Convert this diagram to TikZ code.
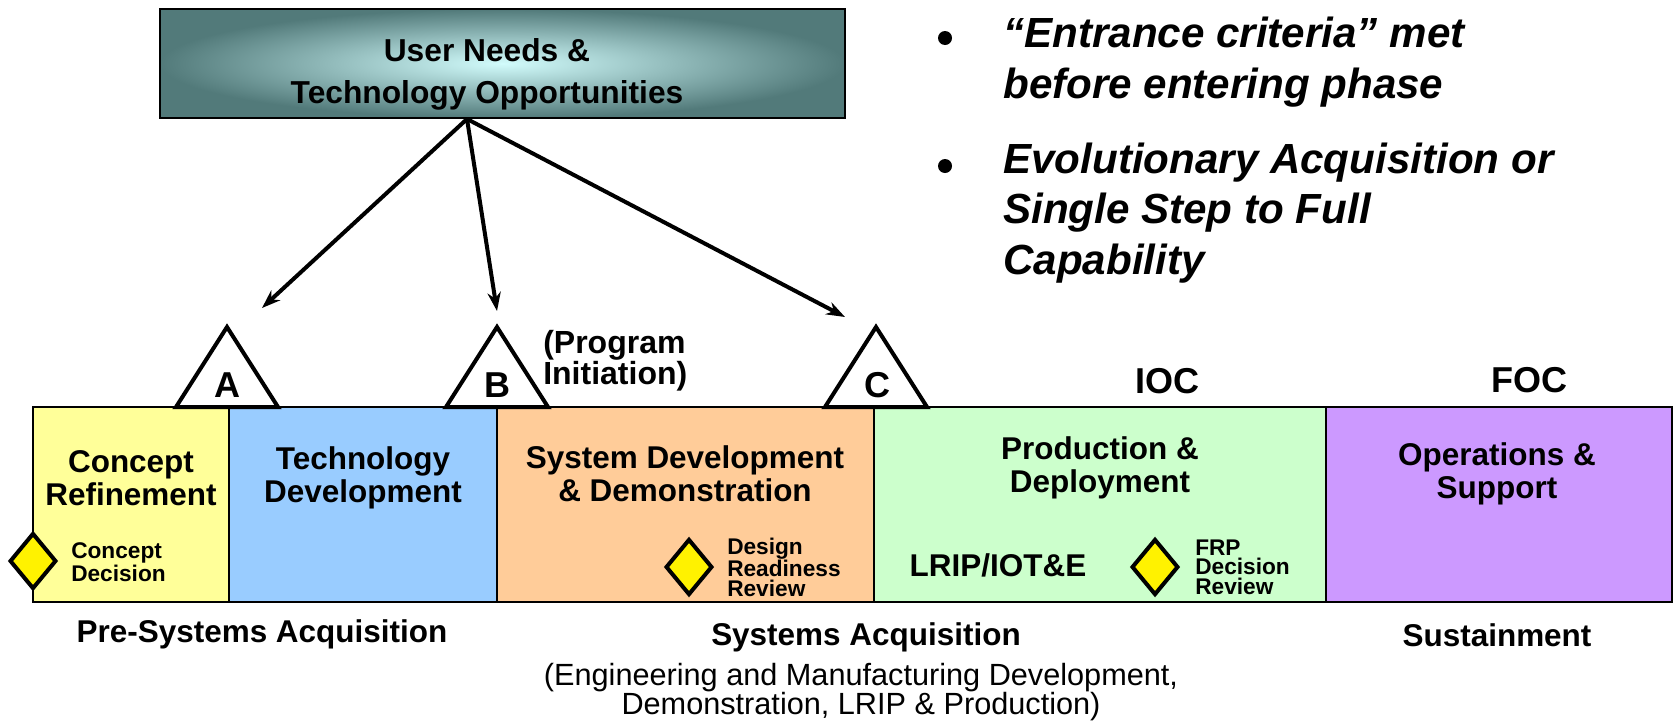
\documentclass[tikz,border=0pt]{standalone}
\usepackage{fontspec}
\setmainfont{Liberation Sans}
\usetikzlibrary{arrows.meta,shapes.geometric}

\definecolor{crYellow}{RGB}{255,255,153}
\definecolor{tdBlue}{RGB}{153,204,255}
\definecolor{sddOrange}{RGB}{255,204,153}
\definecolor{pdGreen}{RGB}{204,255,204}
\definecolor{osPurple}{RGB}{204,153,255}
\definecolor{needsLight}{RGB}{210,252,252}
\definecolor{needsDark}{RGB}{82,122,122}

\begin{document}
\begin{tikzpicture}[x=0.75pt,y=0.75pt,yscale=-1,xscale=1,
	phasebox/.style={draw=black,line width=1.5pt},
	milestone/.style={draw=black,fill=white,line width=3pt,line join=miter},
	decision/.style={diamond,draw=black,fill=yellow,line width=3pt,inner sep=0pt,minimum width=35pt,minimum height=42pt},
	phaselbl/.style={font=\bfseries\fontsize{23.6}{25}\selectfont,align=center,inner sep=0.75pt},
	smalllbl/.style={font=\bfseries\fontsize{17}{14.5}\selectfont,align=left,anchor=west,inner sep=0.75pt},
	letterlbl/.style={font=\bfseries\fontsize{27}{30}\selectfont,inner sep=0.75pt},
	bulletlbl/.style={font=\bfseries\itshape\fontsize{31.6}{38}\selectfont,align=left,anchor=west,inner sep=0.75pt},
	feed/.style={line width=3pt,-{Stealth[length=14pt,width=10pt]}}]
	\useasboundingbox (0,0) rectangle (1677,722);
	
	%Shaded Rectangle
	\shade[inner color=needsLight,outer color=needsDark] (160,9) rectangle (845,118);
	\draw[line width=1.2pt] (160,9) rectangle (845,118);
	% Text Node
	\node[font=\bfseries\fontsize{23.8}{31.5}\selectfont,align=center,inner sep=0.75pt] (needs) at (487,74) {User Needs \&\\Technology Opportunities};
	
	% Bullets
	\node[circle,fill=black,inner sep=0pt,minimum size=10.5pt] (dotA) at (945,38) {};
	\node[circle,fill=black,inner sep=0pt,minimum size=10.5pt] (dotB) at (945,166) {};
	\node[bulletlbl] (entrance) at (1002,62) {“Entrance criteria” met\\before entering phase};
	\node[bulletlbl] (evolution) at (1002,213) {Evolutionary Acquisition or\\Single Step to Full\\Capability};
	
	% Phase strip
	\draw[phasebox,fill=crYellow] (33,407) rectangle (229,602);
	\draw[phasebox,fill=tdBlue] (229,407) rectangle (497,602);
	\draw[phasebox,fill=sddOrange] (497,407) rectangle (874,602);
	\draw[phasebox,fill=pdGreen] (874,407) rectangle (1326,602);
	\draw[phasebox,fill=osPurple] (1326,407) rectangle (1672,602);
	
	% Milestone triangles
	\draw[milestone] (176,407) -- (227,327) -- (278,407) -- cycle;
	\draw[milestone] (446,407) -- (497,327) -- (548,407) -- cycle;
	\draw[milestone] (825,407) -- (876,327) -- (927,407) -- cycle;
	\node[letterlbl] (msA) at (227,385) {A};
	\node[letterlbl] (msB) at (497,385) {B};
	\node[letterlbl] (msC) at (877,385) {C};
	
	% Arrows from the top box
	\coordinate (hub) at (467,119);
	\coordinate (toA) at (262,308);
	\coordinate (toB) at (497,311);
	\coordinate (toC) at (845,317);
	\draw[feed] (hub) -- (toA);
	\draw[feed] (hub) -- (toB);
	\draw[feed] (hub) -- (toC);
	
	% Text Node
	\node[font=\bfseries\fontsize{24}{22}\selectfont,align=left,anchor=west,inner sep=0.75pt] (pinit) at (542,361) {(Program\\Initiation)};
	% Text Node
	\node[font=\bfseries\fontsize{27}{30}\selectfont,inner sep=0.75pt] (ioc) at (1167,381) {IOC};
	% Text Node
	\node[font=\bfseries\fontsize{27}{30}\selectfont,inner sep=0.75pt] (foc) at (1529,380) {FOC};
	
	% Phase names
	\node[phaselbl] (cr) at (131,478) {Concept\\Refinement};
	\node[phaselbl] (td) at (363,478) {Technology\\Development};
	\node[phaselbl] (sdd) at (685,474) {System Development\\\& Demonstration};
	\node[phaselbl] (pd) at (1100,468) {Production \&\\Deployment};
	\node[phaselbl] (os) at (1497,474) {Operations \&\\Support};
	
	% Decision points
	\node[decision] (cd) at (33,561) {};
	\node[smalllbl] (cdlbl) at (70,562) {Concept\\Decision};
	\node[decision] (drr) at (689,567) {};
	\node[smalllbl] (drrlbl) at (726,567) {Design\\Readiness\\Review};
	\node[phaselbl] (lrip) at (998,565) {LRIP/IOT\&E};
	\node[decision] (frp) at (1155,567) {};
	\node[smalllbl] (frplbl) at (1194,567) {FRP\\Decision\\Review};
	
	% Activity names
	\node[phaselbl] (presys) at (262,634) {Pre-Systems Acquisition};
	\node[phaselbl] (sysacq) at (866,637) {Systems Acquisition};
	\node[font=\fontsize{23}{22}\selectfont,align=center,inner sep=0.75pt] (emd) at (861,692) {(Engineering and Manufacturing Development,\\Demonstration, LRIP \& Production)};
	\node[phaselbl] (sust) at (1497,635) {Sustainment};
	
\end{tikzpicture}
\end{document}
